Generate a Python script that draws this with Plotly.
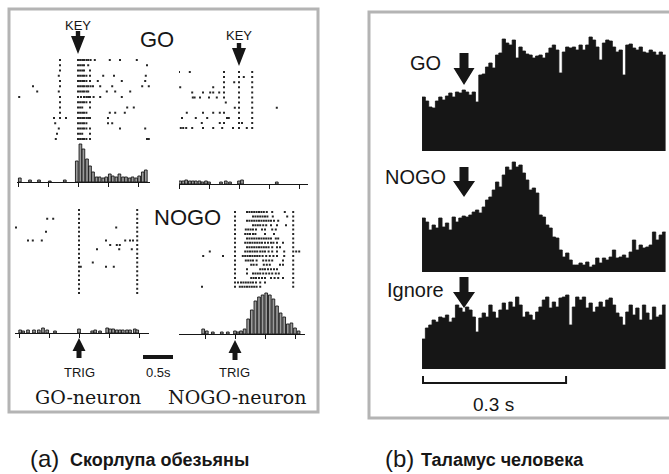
import plotly.graph_objects as go

W, H = 669, 474
INK = "#161616"
FRAME = "#b4b4b4"
SANS = "Liberation Sans, Arial, sans-serif"
NARROW = "Liberation Sans Narrow, Arial Narrow, Liberation Sans, sans-serif"
SERIF = "DejaVu Serif, serif"

# ---------------- (a) monkey putamen: spike rasters (s, relative to event) ----------------
# GO-neuron, GO trials, aligned on KEY
go_go_trials = [
    [-0.30, 0.0, 0.035, 0.07, 0.10, 0.14, 0.17, 0.21, 0.28, 0.53, 0.70, 0.98],
    [-0.30, 0.0, 0.035, 0.07, 0.10, 0.17, 1.15],
    [-0.30, 0.0, 0.035, 0.07, 0.10, 0.20],
    [-0.32, 0.0, 0.035, 0.07, 0.10, 0.14, 0.20, 0.42, 0.60, 1.13],
    [-0.30, 0.0, 0.035, 0.07, 0.10, 0.14, 0.20, 0.33, 0.73, 1.12],
    [-0.75, -0.30, 0.0, 0.035, 0.07, 0.10, 0.14, 0.17, 0.21, 0.25, 0.37, 0.57, 1.07, 1.18],
    [-0.68, -0.32, 0.0, 0.035, 0.07, 0.10, 0.14, 0.17, 0.48, 0.62, 0.87],
    [-0.98, -0.30, 0.0, 0.05, 0.10, 0.14, 0.17, 0.20, 0.26, 0.37, 0.73],
    [-0.30, 0.0, 0.035, 0.07, 0.10, 0.14, 0.20],
    [-0.30, 0.0, 0.035, 0.07, 0.20, 0.82, 0.93],
    [-0.30, 0.0, 0.035, 0.07, 0.10, 0.14, 0.53, 0.62, 0.78],
    [-0.40, -0.30, -0.20, 0.0, 0.035, 0.07, 0.10, 0.14, 0.17, 0.20, 0.50],
    [-0.38, 0.0, 0.035, 0.07, 0.10, 0.14, 0.50, 0.57],
    [-0.32, 0.0, 0.035, 0.07, 0.10, 0.14, 0.20, 0.70, 1.12],
    [-0.35, 0.0, 0.035, 0.07, 0.20],
    [-0.37, 0.0, 0.035, 0.07, 0.10, 0.14, 0.20, 1.15, 1.18],
]
go_go_hist_t = [-0.97, -0.80, -0.65, -0.47, -0.22, -0.02, 0.04, 0.09, 0.15, 0.20, 0.25, 0.31,
                0.36, 0.42, 0.47, 0.53, 0.58, 0.64, 0.69, 0.75, 0.80, 0.86, 0.91, 0.97, 1.02,
                1.08, 1.13]
go_go_hist_n = [4, 2, 2, 1, 2, 21, 38, 33, 23, 16, 10, 5, 5, 4, 5, 8, 6, 5, 8, 5, 5, 4, 5, 4,
                6, 10, 12]

# NOGO-neuron, GO trials, aligned on KEY
nogo_go_trials = [
    [-1.0, -0.82, -0.25, 0.0, 0.22],
    [-0.25, 0.0, 0.08, 0.22],
    [-0.25, -0.08, 0.0, 0.22],
    [-0.98, -0.43, -0.25, 0.0, 0.22],
    [-0.78, -0.60, -0.48, -0.43, -0.33, -0.25, 0.0, 0.22],
    [-0.77, -0.74, -0.65, -0.50, -0.37, -0.25, 0.0, 0.22],
    [-0.22, 0.0, 0.22],
    [-0.07, 0.0, 0.22, 0.63],
    [-0.87, -0.60, -0.43, -0.32, -0.25, 0.0, 0.22],
    [-0.95, -0.72, -0.53, -0.20, -0.17, 0.0, 0.22],
    [-0.62, -0.32, -0.25, 0.0, 0.05, 0.22],
    [-0.97, -0.93, -0.88, -0.78, -0.60, -0.43, -0.28, -0.10, 0.0, 0.13, 0.22],
]
nogo_go_hist_t = [-0.98, -0.93, -0.88, -0.82, -0.77, -0.72, -0.66, -0.61, -0.55, -0.50,
                  -0.30, -0.22, -0.15, 0.0, 0.05, 0.63]
nogo_go_hist_n = [3, 3, 4, 3, 3, 3, 3, 2, 3, 2, 2, 3, 2, 3, 4, 2]

# GO-neuron, NOGO trials, aligned on TRIG
go_nogo_trials = [
    [0.0, 0.97], [0.0, 0.97], [-0.53, -0.43, 0.0, 0.97], [0.0, 0.97],
    [-1.05, 0.0, 0.62, 0.97], [-0.55, 0.0, 0.97], [0.0, 0.97],
    [-0.85, -0.77, -0.62, 0.0, 0.45, 0.77, 0.85, 0.90, 0.97],
    [0.0, 0.52, 0.63, 0.68, 0.97], [0.0, 0.30, 0.67, 0.88, 0.97], [0.0, 0.97], [0.0, 0.97],
    [0.0, 0.23, 0.97], [0.0, 0.03, 0.45, 0.58, 0.97], [0.0, 0.97], [0.0, 0.97],
    [0.0, 0.97], [0.0, 0.97], [0.0, 0.97], [0.0, 0.97],
]
go_nogo_hist_t = [-0.98, -0.93, -0.85, -0.75, -0.67, -0.60, -0.53, -0.40, 0.0, 0.22, 0.27,
                  0.35, 0.47, 0.52, 0.57, 0.63, 0.68, 0.73, 0.80, 0.85, 0.93, 0.97]
go_nogo_hist_n = [3, 2, 3, 3, 3, 5, 3, 2, 4, 2, 3, 2, 5, 4, 4, 3, 3, 3, 3, 3, 4, 3]

# NOGO-neuron, NOGO trials, aligned on TRIG
nogo_nogo_trials = [
    [0.0, 0.20, 0.24, 0.28, 0.32, 0.36, 0.40, 0.44, 0.48, 0.53, 0.62, 0.83, 0.97],
    [0.0, 0.30, 0.34, 0.38, 0.42, 0.46, 0.50, 0.54, 0.63, 0.87, 0.97],
    [0.0, 0.20, 0.24, 0.28, 0.32, 0.36, 0.40, 0.44, 0.48, 0.52, 0.56, 0.60, 0.65, 0.72, 0.97],
    [0.0, 0.30, 0.34, 0.38, 0.42, 0.47, 0.52, 0.60, 0.70, 0.85, 0.97],
    [0.0, 0.18, 0.22, 0.26, 0.30, 0.35, 0.45, 0.50, 0.62, 0.68, 0.97],
    [0.0, 0.17, 0.21, 0.25, 0.30, 0.34, 0.50, 0.65, 0.97],
    [0.0, 0.20, 0.24, 0.28, 0.32, 0.36, 0.40, 0.44, 0.48, 0.52, 0.56, 0.60, 0.68, 0.72, 0.97],
    [0.0, 0.17, 0.21, 0.25, 0.29, 0.33, 0.37, 0.41, 0.45, 0.50, 0.55, 0.60, 0.64, 0.70, 0.80, 0.97],
    [0.0, 0.20, 0.24, 0.28, 0.32, 0.36, 0.40, 0.44, 0.48, 0.52, 0.56, 0.62, 0.70, 0.75, 0.97],
    [-0.42, 0.0, 0.17, 0.21, 0.25, 0.29, 0.33, 0.37, 0.42, 0.46, 0.50, 0.56, 0.62, 0.70, 0.82, 0.97, 1.02, 1.07],
    [-0.53, -0.20, 0.0, 0.13, 0.17, 0.21, 0.25, 0.29, 0.33, 0.37, 0.41, 0.46, 0.52, 0.58, 0.64, 0.70, 0.82, 0.97],
    [0.0, 0.18, 0.22, 0.26, 0.30, 0.36, 0.47, 0.52, 0.57, 0.62, 0.80, 0.97],
    [0.0, 0.27, 0.31, 0.36, 0.48, 0.53, 0.58, 0.75, 0.80, 0.97],
    [0.0, 0.20, 0.42, 0.46, 0.50, 0.55, 0.60, 0.65, 0.70, 0.97],
    [0.0, 0.20, 0.30, 0.34, 0.38, 0.42, 0.47, 0.52, 0.57, 0.62, 0.68, 0.73, 0.97],
    [0.0, 0.27, 0.31, 0.35, 0.40, 0.45, 0.50, 0.60, 0.66, 0.72, 0.80, 0.97],
    [0.0, 0.05, 0.10, 0.14, 0.18, 0.22, 0.26, 0.30, 0.35, 0.42, 0.50, 0.97],
    [-0.55, 0.0, 0.08, 0.12, 0.16, 0.20, 0.24, 0.28, 0.32, 0.36, 0.42, 0.97],
]
nogo_nogo_hist_t = [-0.53, -0.47, -0.37, -0.22, -0.12, 0.0, 0.05, 0.10, 0.16, 0.22, 0.28, 0.34,
                    0.40, 0.46, 0.52, 0.58, 0.64, 0.70, 0.76, 0.82, 0.88, 0.94, 1.00, 1.06]
nogo_nogo_hist_n = [5, 3, 2, 2, 2, 3, 2, 3, 5, 15, 24, 33, 37, 39, 41, 39, 35, 28, 21, 17, 10,
                    11, 6, 3]

# ---------------- (b) human thalamus: population histograms ----------------
THAL_T0 = -0.088     # start of first bin, s (stimulus at 0)
THAL_BIN = 0.007     # bin width, s
thal_go = [54, 50, 44, 43, 50, 54, 51, 55, 58, 54, 59, 58, 61, 59, 56, 59, 49, 76, 77, 84,
           88, 83, 96, 98, 112, 108, 106, 111, 93, 104, 100, 97, 96, 93, 95, 96, 93, 98, 103,
           106, 101, 78, 99, 104, 103, 104, 101, 106, 101, 106, 114, 111, 104, 91, 108, 111,
           110, 104, 99, 101, 76, 106, 107, 103, 101, 104, 99, 98, 101, 99, 96, 99, 96]
thal_nogo = [54, 50, 42, 47, 44, 54, 45, 49, 42, 55, 50, 54, 56, 55, 57, 60, 62, 59, 65, 72,
             75, 82, 90, 85, 97, 105, 102, 110, 105, 107, 99, 92, 82, 84, 79, 57, 55, 47, 44,
             35, 34, 22, 15, 19, 12, 7, 7, 9, 7, 10, 5, 7, 14, 9, 14, 12, 15, 22, 14, 15, 17,
             14, 20, 32, 22, 27, 24, 25, 27, 40, 32, 37, 40]
thal_ignore = [30, 41, 44, 49, 47, 52, 51, 54, 47, 51, 64, 61, 57, 62, 59, 52, 37, 51, 56,
               52, 64, 57, 51, 59, 66, 59, 67, 62, 72, 64, 52, 57, 54, 49, 57, 62, 69, 72, 61,
               67, 62, 71, 72, 74, 44, 62, 72, 69, 72, 61, 66, 57, 62, 67, 62, 69, 71, 64, 56,
               52, 44, 57, 64, 54, 61, 49, 64, 56, 49, 62, 52, 54, 64]

# ---------------- figure assembly ----------------
fig = go.Figure()
axes = {}
n_axes = 0
PX_PER_S_A = 60.0     # left panel time scale
PX_PER_S_B = 477.0    # right panel time scale


def add_axes(x0, x1, top, bottom, xr, yr, xstyle=None):
    global n_axes
    n_axes += 1
    s = "" if n_axes == 1 else str(n_axes)
    xa = dict(domain=[x0 / W, x1 / W], range=xr, anchor="y" + s, visible=False,
              showgrid=False, zeroline=False, fixedrange=True)
    if xstyle:
        xa.update(xstyle)
        xa["visible"] = True
    ya = dict(domain=[1 - bottom / H, 1 - top / H], range=yr, anchor="x" + s,
              visible=False, showgrid=False, zeroline=False, fixedrange=True)
    axes["xaxis" + s] = xa
    axes["yaxis" + s] = ya
    return "x" + s, "y" + s


def raster(trials, x0, x1, zero_px, first_row, step):
    xr = [(x0 - zero_px) / PX_PER_S_A, (x1 - zero_px) / PX_PER_S_A]
    n = len(trials)
    xa, ya = add_axes(x0, x1, first_row - step, first_row + n * step, xr, [n, -1])
    xs, ys = [], []
    for i, row in enumerate(trials):
        xs += row
        ys += [i] * len(row)
    fig.add_trace(go.Scatter(x=xs, y=ys, xaxis=xa, yaxis=ya, mode="markers",
                             marker=dict(symbol="square", size=2.0, color="#262626",
                                         line=dict(width=0)),
                             hoverinfo="skip", showlegend=False))
    return xa


def spike_hist(t, n, x0, x1, zero_px, base, height):
    xr = [(x0 - zero_px) / PX_PER_S_A, (x1 - zero_px) / PX_PER_S_A]
    style = dict(showline=True, linecolor=INK, linewidth=1.3, ticks="outside", ticklen=4,
                 tickwidth=1.2, tickcolor=INK, tick0=0, dtick=0.5, showticklabels=False)
    xa, ya = add_axes(x0, x1, base - height, base, xr, [0, height], style)
    fig.add_trace(go.Bar(x=t, y=n, width=0.045, xaxis=xa, yaxis=ya,
                         marker=dict(color="#9c9c9c", line=dict(color=INK, width=0.9)),
                         hoverinfo="skip", showlegend=False))
    return xa


def thal_hist(counts, base, height):
    edges = [THAL_T0 + k * THAL_BIN for k in range(len(counts) + 1)]
    x0 = 464 + THAL_T0 * PX_PER_S_B
    x1 = 464 + edges[-1] * PX_PER_S_B
    xa, ya = add_axes(x0, x1, base - height, base, [edges[0], edges[-1]], [0, height])
    fig.add_trace(go.Scatter(x=edges, y=list(counts) + [counts[-1]], xaxis=xa, yaxis=ya,
                             mode="lines", line=dict(shape="hv", color=INK, width=0.8),
                             fill="tozeroy", fillcolor=INK, hoverinfo="skip",
                             showlegend=False))
    return xa


def arrow(xref, tip_y, head_h, head_hw, shaft_h, shaft_hw, up=False):
    s = -1 if up else 1
    pts = [(0, 0), (-head_hw, s * head_h), (-shaft_hw, s * head_h),
           (-shaft_hw, s * (head_h + shaft_h)), (shaft_hw, s * (head_h + shaft_h)),
           (shaft_hw, s * head_h), (head_hw, s * head_h)]
    path = "M" + " L".join(f"{x},{y}" for x, y in pts) + " Z"
    fig.add_shape(type="path", path=path, xref=xref, yref="paper", xsizemode="pixel",
                  ysizemode="pixel", xanchor=0, yanchor=1 - tip_y / H,
                  fillcolor=INK, line=dict(width=0), layer="above")


def label(text, x, y_px, size, family=SANS, xref="paper", anchor="center", color=INK):
    xv = x / W if xref == "paper" else x
    fig.add_annotation(text=text, x=xv, y=1 - y_px / H, xref=xref, yref="paper",
                       xanchor=anchor, yanchor="middle", showarrow=False,
                       font=dict(family=family, size=size, color=color))


# panel frames
fig.add_shape(type="rect", xref="paper", yref="paper", x0=9 / W, x1=318 / W,
              y0=1 - 412 / H, y1=1 - 9 / H, line=dict(color=FRAME, width=3))
fig.add_shape(type="rect", xref="paper", yref="paper", x0=369 / W, x1=680 / W,
              y0=1 - 418 / H, y1=1 - 12 / H, line=dict(color=FRAME, width=3))

# (a) left column: GO-neuron
xa_gg = raster(go_go_trials, 17, 150, 78, 60, 5.27)
spike_hist(go_go_hist_t, go_go_hist_n, 17, 150, 78, 182, 46)
xa_gn = raster(go_nogo_trials, 15, 149, 79, 210, 4.37)
xh_gn = spike_hist(go_nogo_hist_t, go_nogo_hist_n, 15, 149, 79, 333, 46)

# (a) right column: NOGO-neuron
xa_ng = raster(nogo_go_trials, 179, 308, 239, 72, 5.1)
spike_hist(nogo_go_hist_t, nogo_go_hist_n, 179, 308, 239, 184, 46)
xa_nn = raster(nogo_nogo_trials, 179, 305, 235, 212, 4.4)
xh_nn = spike_hist(nogo_nogo_hist_t, nogo_nogo_hist_n, 179, 305, 235, 334, 46)

# event markers and labels
arrow(xa_gg, 54, 18, 7, 5, 2.2)
label("KEY", 0, 25, 13, xref=xa_gg)
arrow(xa_ng, 66, 18, 7, 5, 2.2)
label("KEY", 0, 36, 13, xref=xa_ng)
arrow(xh_gn, 338, 13, 6.5, 7, 2.5, up=True)
label("TRIG", 0, 372, 13, xref=xh_gn)
arrow(xh_nn, 340, 13, 6.5, 7, 2.5, up=True)
label("TRIG", 0, 372, 13, xref=xh_nn)

label("GO", 157, 39, 22)
label("NOGO", 187, 217, 22)

# 0.5 s scale bar
fig.add_shape(type="rect", xref="paper", yref="paper", x0=143 / W, x1=173 / W,
              y0=1 - 359 / H, y1=1 - 355 / H, fillcolor=INK, line=dict(width=0))
label("0.5s", 158, 372, 13)
label("GO-neuron", 88, 397, 19, family=SERIF)
label("NOGO-neuron", 237, 397, 19, family=SERIF)

# (b) thalamus histograms
xb_go = thal_hist(thal_go, 151, 125)
xb_nogo = thal_hist(thal_nogo, 272, 125)
xb_ign = thal_hist(thal_ignore, 369, 90)

label("GO", 425, 63, 20)
arrow(xb_go, 85, 17, 10.5, 15, 4.5)
label("NOGO", 416, 177, 20)
arrow(xb_nogo, 197, 16, 11, 14, 4.5)
label("Ignore", 415, 290, 20)
arrow(xb_ign, 308, 16, 11, 15, 4.5)

# 0.3 s scale bar
bar_t0 = THAL_T0 + 0.002
bar_t1 = bar_t0 + 0.3
fig.add_shape(type="path", xref=xb_ign, yref="paper",
              path=f"M{bar_t0},{1 - 376 / H} L{bar_t0},{1 - 383 / H} "
                   f"L{bar_t1},{1 - 383 / H} L{bar_t1},{1 - 376 / H}",
              line=dict(color=INK, width=2))
label("0.3 s", 494, 404, 19)

# captions
label("(a)", 28, 458, 24, anchor="left")
label("<b>Скорлупа обезьяны</b>", 68, 460, 18, family=NARROW, anchor="left")
label("(b)", 383, 458, 24, anchor="left")
label("<b>Таламус человека</b>", 419, 460, 18, family=NARROW, anchor="left")

fig.update_layout(width=W, height=H, margin=dict(l=0, r=0, t=0, b=0),
                  paper_bgcolor="white", plot_bgcolor="rgba(0,0,0,0)",
                  showlegend=False, **axes)

fig.write_html("out.html")
